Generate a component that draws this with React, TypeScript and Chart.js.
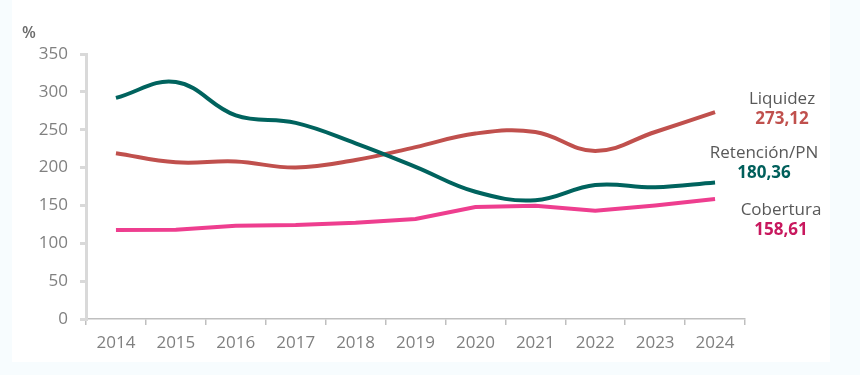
import React, { useEffect, useRef } from "react";
import { Chart, registerables } from "chart.js";

Chart.register(...registerables);

const years = ["2014", "2015", "2016", "2017", "2018", "2019", "2020", "2021", "2022", "2023", "2024"];
const retencion = [292, 313, 269, 259, 232, 201, 168, 157, 177, 174, 180.36];
const liquidez = [219, 207, 208, 200, 210, 227, 245, 247, 222, 247, 273.12];
const cobertura = [117.5, 118, 123, 124, 127, 132, 148, 149.5, 143, 150, 158.61];

const seriesNames = ["Liquidez", "Retención/PN", "Cobertura"];
const seriesLabels = ["273,12", "180,36", "158,61"];
const yTicks = [0, 50, 100, 150, 200, 250, 300, 350];

const FONT = "'Open Sans', sans-serif";

const labelsPlugin = {
  id: "endLabels",
  afterDraw(chart: any) {
    const ctx = chart.ctx;
    ctx.save();
    ctx.textAlign = "center";
    ctx.textBaseline = "alphabetic";
    const items = [
      { name: seriesNames[0], value: seriesLabels[0], x: 782, y: 104, color: "#c0504d" },
      { name: seriesNames[1], value: seriesLabels[1], x: 764, y: 158, color: "#005f5b" },
      { name: seriesNames[2], value: seriesLabels[2], x: 781, y: 215, color: "#c8185e" },
    ];
    items.forEach((it) => {
      ctx.font = `17px ${FONT}`;
      ctx.fillStyle = "#595959";
      ctx.fillText(it.name, it.x, it.y);
      ctx.font = `bold 17px ${FONT}`;
      ctx.fillStyle = it.color;
      ctx.fillText(it.value, it.x, it.y + 20);
    });
    ctx.font = `600 16px ${FONT}`;
    ctx.fillStyle = "#6b6b6b";
    ctx.textAlign = "left";
    ctx.fillText("%", 22, 38);
    ctx.restore();
  },
};

export default function App() {
  const ref = useRef<HTMLCanvasElement | null>(null);
  useEffect(() => {
    document.body.style.margin = "0";
    document.body.style.background = "#f7fcfe";
    const chart = new Chart(ref.current as HTMLCanvasElement, {
      type: "line",
      data: {
        labels: years,
        datasets: [
          {
            label: seriesNames[1],
            data: retencion,
            borderColor: "#00635e",
            borderWidth: 4,
            tension: 0.4,
            pointRadius: 0,
            fill: false,
          },
          {
            label: seriesNames[0],
            data: liquidez,
            borderColor: "#c0504d",
            borderWidth: 4,
            tension: 0.4,
            pointRadius: 0,
            fill: false,
          },
          {
            label: seriesNames[2],
            data: cobertura,
            borderColor: "#ee3e8f",
            borderWidth: 4,
            tension: 0,
            pointRadius: 0,
            fill: false,
          },
        ],
      },
      options: {
        animation: false,
        responsive: false,
        layout: { padding: { left: 0, right: 115, top: 54, bottom: 0 } },
        plugins: { legend: { display: false }, tooltip: { enabled: false } },
        scales: {
          x: {
            offset: true,
            grid: {
              offset: true,
              drawOnChartArea: false,
              drawTicks: true,
              tickLength: 6,
              color: "#bfbfbf",
              lineWidth: 1.5,
            },
            border: { color: "#bfbfbf", width: 1.5 },
            ticks: {
              color: "#808080",
              font: { family: FONT, size: 17 },
              padding: 8,
              maxRotation: 0,
            },
            afterFit: (s: any) => {
              s.height = 56;
            },
          },
          y: {
            min: 0,
            max: 350,
            afterBuildTicks: (s: any) => {
              s.ticks = yTicks.map((v) => ({ value: v }));
            },
            grid: {
              drawOnChartArea: false,
              drawTicks: true,
              tickLength: 6,
              color: "#d9d9d9",
              lineWidth: 3,
            },
            border: { color: "#d9d9d9", width: 3 },
            ticks: {
              color: "#808080",
              font: { family: FONT, size: 17 },
              padding: 12,
            },
            afterFit: (s: any) => {
              s.width = 86;
            },
          },
        },
      },
      plugins: [labelsPlugin],
    });
    return () => chart.destroy();
  }, []);
  return (
    <div style={{ position: "relative", width: 860, height: 375, background: "#f7fcfe" }}>
      <div style={{ position: "absolute", left: 12, top: 0, width: 818, height: 362, background: "#ffffff" }} />
      <canvas ref={ref} width={860} height={375} style={{ position: "absolute", left: 0, top: 0 }} />
    </div>
  );
}
